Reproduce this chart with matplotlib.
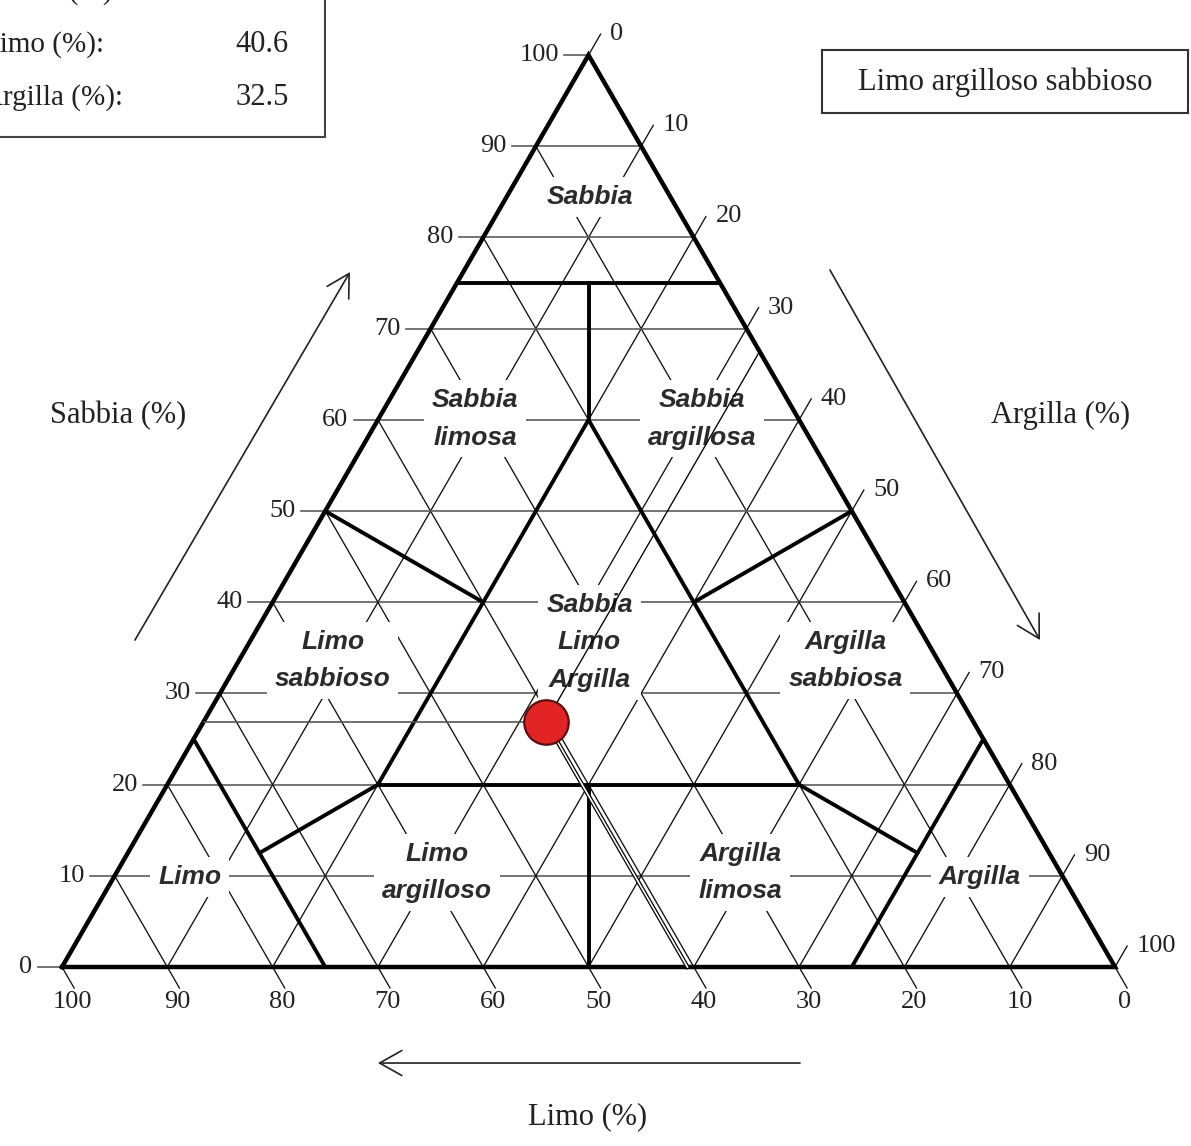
import numpy as np
import matplotlib.pyplot as plt

# campione analizzato (%)
sabbia_pct = 26.9
limo_pct = 40.6
argilla_pct = 32.5
classe = "Limo argilloso sabbioso"

tick_values = list(range(0, 101, 10))

# limiti delle classi, come coppie (sabbia, argilla)
boundaries = [
    [(75, 0), (75, 25)],
    [(75, 12.5), (60, 20)],
    [(60, 20), (20, 20)],
    [(60, 20), (20, 60)],
    [(20, 20), (20, 60)],
    [(20, 40), (0, 50)],
    [(50, 0), (40, 20)],
    [(50, 50), (40, 40)],
    [(20, 20), (12.5, 12.5)],
    [(25, 0), (0, 25)],
    [(20, 60), (12.5, 75)],
    [(25, 75), (0, 75)],
]

region_names = ["Sabbia", "Sabbia\nlimosa", "Sabbia\nargillosa", "Sabbia\nLimo\nArgilla",
                "Limo\nsabbioso", "Argilla\nsabbiosa", "Limo", "Limo\nargilloso",
                "Argilla\nlimosa", "Argilla"]
region_sabbia = [84.4, 60.1, 60.1, 35.6, 33.6, 33.6, 9.9, 10.4, 10.4, 9.9]
region_argilla = [7.9, 9.2, 30.7, 32.3, 8.9, 57.6, 7.2, 30.4, 59.2, 82.2]

H = np.sqrt(3) / 2


def tern(s, c):
    return c + s / 2, s * H


U = 10.53  # px per unit
fig = plt.figure(figsize=(11.91, 11.46), dpi=100)
ax = fig.add_axes([0, 0, 1, 1])
ax.set_xlim(-62 / U, (1191 - 62) / U)
ax.set_ylim(-(1146 - 967) / U, 967 / U)
ax.axis("off")

serif = "Liberation Serif"
sans = "Liberation Sans"
TL = 2.3  # tick length
grid_kw = dict(color="#111", lw=0.95, zorder=1)

for k in tick_values:
    # sabbia: orizzontali + tacca a sinistra
    x0, y0 = tern(k, 0)
    x1, y1 = tern(k, 100 - k)
    ax.plot([x0 - TL, x1], [y0, y1], color="#5c5c5c", lw=1.2, zorder=1)
    ax.text(x0 - TL - 0.5, y0, str(k), ha="right", va="center",
            fontsize=19, family=serif, color="#222")
    # argilla: parallele al lato sinistro, tacca a destra
    x0, y0 = tern(0, k)
    x1, y1 = tern(100 - k, k)
    xe, ye = x1 + TL * 0.5, y1 + TL * H
    ax.plot([x0, xe], [y0, ye], **grid_kw)
    ax.text(xe + 0.9, ye, str(k), ha="left", va="center",
            fontsize=19, family=serif, color="#222")
    # limo = k: parallele al lato destro, tacca in basso
    x0, y0 = tern(100 - k, 0)
    x1, y1 = tern(0, 100 - k)
    xe, ye = x1 + TL * 0.5, y1 - TL * H
    ax.plot([x0, xe], [y0, ye], **grid_kw)
    ax.text(xe - 0.2, ye - 0.3, str(k), ha="center", va="top",
            fontsize=19, family=serif, color="#222")

# bordo del triangolo
bx, by = zip(*[tern(0, 0), tern(0, 100), tern(100, 0), tern(0, 0)])
ax.plot(bx, by, color="black", lw=3.2, zorder=4, solid_joinstyle="miter")

for seg in boundaries:
    xs, ys = zip(*[tern(s, c) for s, c in seg])
    ax.plot(xs, ys, color="black", lw=2.8, zorder=4, solid_capstyle="round")

for name, s, c in zip(region_names, region_sabbia, region_argilla):
    x, y = tern(s, c)
    ax.text(x, y, name, ha="center", va="center", fontsize=19, family=sans,
            weight="bold", style="italic", color="#2b2b2b", linespacing=1.7,
            zorder=3, bbox=dict(boxstyle="square,pad=0.3", fc="white", ec="none"))

# punto del campione e linee di lettura
px, py = tern(sabbia_pct, argilla_pct)
lx, ly = tern(sabbia_pct, 0)
ax.plot([lx, px], [ly, py], color="#555", lw=1.2, zorder=5)
rx, ry = tern(100 - argilla_pct, argilla_pct)
ax.plot([px, rx], [py, ry], color="black", lw=0.95, zorder=5)
dx, dy = tern(0, 100 - limo_pct)
ax.plot([px, dx], [py, dy], color="black", lw=3.0, zorder=5)
ax.plot([px, dx], [py, dy], color="white", lw=1.2, zorder=5)
ax.plot([px], [py], "o", ms=32, mfc="#e32424", mec="#5a1010", mew=1.6, zorder=6)

# titoli degli assi e frecce
arrow = dict(arrowstyle="->,head_length=0.8,head_width=0.45", lw=1.2,
             color="#222", mutation_scale=20, shrinkA=0, shrinkB=0)
ax.annotate("", xy=(27.35, 66.0), xytext=(6.93, 31.05), arrowprops=arrow)
ax.annotate("", xy=(92.88, 31.05), xytext=(72.93, 66.19), arrowprops=arrow)
ax.annotate("", xy=(30.0, -9.12), xytext=(70.09, -9.12), arrowprops=arrow)
ax.text(5.32, 52.4, "Sabbia (%)", ha="center", va="center", fontsize=22,
        family=serif, color="#222")
ax.text(94.8, 52.4, "Argilla (%)", ha="center", va="center", fontsize=22,
        family=serif, color="#222")
ax.text(49.95, -14.25, "Limo (%)", ha="center", va="center", fontsize=22,
        family=serif, color="#222")

# riquadro con la classe
ax.add_patch(plt.Rectangle((72.17, 81.1), 34.76, 5.98, fc="white", ec="#333",
                           lw=1.5, zorder=2))
ax.text(89.55, 84.05, classe, ha="center", va="center", fontsize=22,
        family=serif, color="#222", zorder=3)

# riquadro con i valori
ax.add_patch(plt.Rectangle((-7.0, 78.8), 31.98, 15.0, fc="white", ec="#444",
                           lw=1.5, zorder=2))
rows = [("Sabbia (%):", sabbia_pct), ("Limo (%):", limo_pct), ("Argilla (%):", argilla_pct)]
for i, (lab, val) in enumerate(rows):
    y = 92.6 - i * 5.03
    ax.text(-7.6, y, lab, ha="left", va="center", fontsize=21, family=serif,
            color="#222", zorder=3)
    ax.text(16.43, y, f"{val:.1f}", ha="left", va="center", fontsize=22,
            family=serif, color="#222", zorder=3)

fig.savefig("out.png", dpi=100)
